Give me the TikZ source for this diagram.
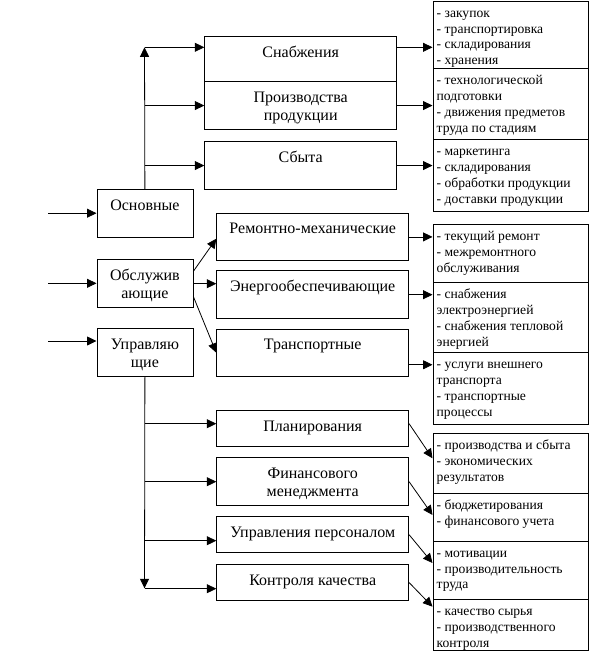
\documentclass[tikz,border=0pt]{standalone}
\usepackage{fontspec}
\setmainfont{Liberation Serif}
\usetikzlibrary{arrows.meta}

\begin{document}
\begin{tikzpicture}[
  x=1pt,y=-1pt,
  typebox/.style={draw,line width=0.8pt,anchor=north west,inner sep=0pt,
                  minimum width=96pt,minimum height=48pt},
  funcbox/.style={draw,line width=0.8pt,anchor=north west,inner sep=0pt,
                  minimum width=192pt,minimum height=#1},
  itembox/.style={draw,line width=0.8pt,anchor=north west,inner sep=0pt,
                  minimum width=155pt,minimum height=#1},
  ttl/.style={anchor=north,yshift=-8.4pt,inner sep=0pt,align=center,
              font=\fontsize{16}{18}\selectfont},
  lst/.style={anchor=north west,xshift=4pt,yshift=-5.5pt,inner sep=0pt,
              align=left,font=\fontsize{13.6}{15.7}\selectfont},
  arr/.style={-{Triangle[length=9.5pt,width=9pt]},line width=0.8pt},
]
\useasboundingbox (0,0) rectangle (591,662);

% ---- Kinds of units -----------------------------------------------------------
\node[typebox,label={[ttl]north:{\strut Основные}}]          (osn) at (96.5,189.3) {};
\node[typebox,label={[ttl]north:{\strut Обслужив\\ающие}}]   (obs) at (96.5,259.3) {};
\node[typebox,label={[ttl]north:{\strut Управляю\\щие}}]     (upr) at (96.5,328.3) {};

% ---- Main units ---------------------------------------------------------------
\node[funcbox=45pt,label={[ttl]north:{\strut Снабжения}}]                (snab)   at (204.3,36)    {};
\node[funcbox=48.3pt,label={[ttl]north:{\strut Производства\\продукции}}] (proizv) at (204.3,81)    {};
\node[funcbox=47.7pt,label={[ttl]north:{\strut Сбыта}}]                  (sbyt)   at (204.3,141.3) {};

% ---- Service units ------------------------------------------------------------
\node[funcbox=47.6pt,label={[ttl]north:{\strut Ремонтно-механические}}] (rem)   at (216.3,212.7) {};
\node[funcbox=48pt,label={[ttl]north:{\strut Энергообеспечивающие}}]    (energ) at (216.3,270.3) {};
\node[funcbox=47.3pt,label={[ttl]north:{\strut Транспортные}}]          (trans) at (216.3,328.7) {};

% ---- Management units ---------------------------------------------------------
\node[funcbox=36pt,label={[ttl]north:{\strut Планирования}}]               (plan) at (216.3,410.3) {};
\node[funcbox=48pt,label={[ttl]north:{\strut Финансового\\менеджмента}}]   (fin)  at (216.3,457.3) {};
\node[funcbox=36pt,label={[ttl]north:{\strut Управления персоналом}}]      (pers) at (216.3,516.3) {};
\node[funcbox=36.3pt,label={[ttl]north:{\strut Контроля качества}}]        (qual) at (216.3,564)   {};

% ---- Task lists ---------------------------------------------------------------
\node[itembox=67.5pt,label={[lst]north west:{\strut - закупок\\- транспортировка\\- складирования\\- хранения}}] (r1a) at (432.5,0.8) {};
\node[itembox=71pt,label={[lst]north west:{\strut - технологической\\подготовки\\- движения предметов\\труда по стадиям}}] (r1b) at (432.5,68.3) {};
\node[itembox=72pt,label={[lst]north west:{\strut - маркетинга\\- складирования\\- обработки продукции\\- доставки продукции}}] (r1c) at (432.5,139.3) {};

\node[itembox=58.3pt,label={[lst]north west:{\strut - текущий ремонт\\- межремонтного\\обслуживания}}] (r2a) at (432.5,224) {};
\node[itembox=70pt,label={[lst]north west:{\strut - снабжения\\электроэнергией\\- снабжения тепловой\\энергией}}] (r2b) at (432.5,282.3) {};
\node[itembox=71.7pt,label={[lst]north west:{\strut - услуги внешнего\\транспорта\\- транспортные\\процессы}}] (r2c) at (432.5,352.3) {};

\node[itembox=60pt,label={[lst]north west:{\strut - производства и сбыта\\- экономических\\результатов}}] (r3a) at (432.5,433.3) {};
\node[itembox=47.4pt,label={[lst]north west:{\strut - бюджетирования\\- финансового учета}}] (r3b) at (432.5,493.3) {};
\node[itembox=58.3pt,label={[lst]north west:{\strut - мотивации\\- производительность\\труда}}] (r3c) at (432.5,540.7) {};
\node[itembox=51pt,label={[lst]north west:{\strut - качество сырья\\- производственного\\контроля}}] (r3d) at (432.5,599) {};

% ---- Inputs -------------------------------------------------------------------
\coordinate (in1) at (48,213.2);
\coordinate (in2) at (48,283.3);
\coordinate (in3) at (48,341);
\foreach \c/\b in {in1/osn, in2/obs, in3/upr}{
  \draw[arr] (\c) -- (\c -| \b.west);
}

% ---- Main branch --------------------------------------------------------------
\coordinate (jtop) at (144.5,47.3);
\draw[arr] (osn.north) -- (jtop);
\draw[arr] (jtop) -- (jtop -| snab.west);
\draw[arr] (osn.north |- proizv.west) -- (proizv.west);
\draw[arr] (osn.north |- sbyt.west) -- (sbyt.west);

\draw[arr] (jtop -| snab.east) -- (jtop -| r1a.west);
\draw[arr] (proizv.east) -- (proizv.east -| r1b.west);
\draw[arr] (sbyt.east) -- (sbyt.east -| r1c.west);

% ---- Service branch -----------------------------------------------------------
\draw[arr] ([yshift=12.3pt]obs.east) -- ([yshift=-1.8pt]rem.west);
\draw[arr] (obs.east) -- (obs.east -| energ.west);
\draw[arr] ([yshift=-12.7pt]obs.east) -- (trans.west);

\draw[arr] (rem.east) -- (rem.east -| r2a.west);
\draw[arr] (energ.east) -- (energ.east -| r2b.west);
\draw[arr] ([yshift=-12pt]trans.east) -- ([yshift=-12pt]trans.east -| r2c.west);

% ---- Management branch --------------------------------------------------------
\coordinate (jbot) at (144.5,588.3);
\draw[arr] (upr.south) -- (jbot);
\foreach \b/\s in {plan/5pt, fin/0pt, pers/-6pt, qual/-6.15pt}{
  \coordinate (\b-in) at ([yshift=\s]\b.west);
  \draw[arr] (upr.south |- \b-in) -- (\b-in);
}

\draw[arr] ([yshift=5pt]plan.east) -- ([yshift=-25pt]r3a.north west);
\draw[arr] (fin.east)  -- ([yshift=-21.7pt]r3b.north west);
\draw[arr] (pers.east) -- ([yshift=-22.3pt]r3c.north west);
\draw[arr] (qual.east) -- ([yshift=-7.7pt]r3d.north west);

\end{tikzpicture}
\end{document}
